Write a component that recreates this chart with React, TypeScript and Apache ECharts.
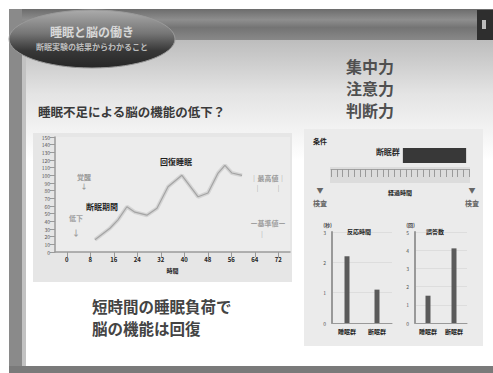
import React, { useEffect, useRef } from "react";
import * as echarts from "echarts";

const HOUR_LABELS = ["0", "8", "16", "24", "32", "40", "48", "56", "64", "72"];
const LINE_X = [1.7, 2.34, 2.68, 3.06, 3.4, 3.91, 4.34, 4.81, 5.4, 6.09, 6.51, 6.94, 7.23, 7.53, 7.96];
const LINE_Y = [16, 31, 42, 59, 52, 48, 57, 85, 100, 72, 77, 103, 113, 103, 100];
const GROUPS = ["睡眠群", "断眠群"];
const REACTION = [2.2, 1.1];
const ERRORS = [1.5, 4.1];
const TL_START = [12.5];
const TL_LEN = [11];
const ABILITIES = ["集中力", "注意力", "判断力"];

const FONT = "'Noto Sans CJK JP', 'Noto Sans', sans-serif";

export default function App() {
  const ref = useRef<HTMLDivElement>(null);
  useEffect(() => {
    if (!ref.current) return;
    const chart = echarts.init(ref.current, undefined, { renderer: "svg" });
    const small = (s: number, c: string, bold = false) => ({
      fontSize: s,
      color: c,
      fontFamily: FONT,
      fontWeight: bold ? ("bold" as const) : ("normal" as const),
    });
    const txt = (x: number, y: number, text: string, fill: string, size: number, align = "center", bold = true, z = 5) => ({
      type: "text",
      z,
      style: { x, y, text, align, verticalAlign: "middle", fill, font: `${bold ? "bold " : ""}${size}px ${FONT}` },
    });
    const option: any = {
      animation: false,
      backgroundColor: "#ffffff",
      textStyle: { fontFamily: FONT },
      graphic: [
        { type: "rect", z: -20, shape: { x: 9, y: 9, width: 484, height: 364 }, style: { fill: "#ffffff" } },
        {
          type: "rect",
          z: -19,
          shape: { x: 9, y: 40, width: 484, height: 120 },
          style: {
            fill: new echarts.graphic.LinearGradient(0, 0, 0, 1, [
              { offset: 0, color: "#bdbdbd" },
              { offset: 0.45, color: "#e4e4e4" },
              { offset: 1, color: "#ffffff" },
            ]),
          },
        },
        {
          type: "rect",
          z: -18,
          shape: { x: 9, y: 9, width: 484, height: 31 },
          style: {
            fill: new echarts.graphic.LinearGradient(0, 0, 0, 1, [
              { offset: 0, color: "#6c6c6c" },
              { offset: 0.35, color: "#8e8e8e" },
              { offset: 0.6, color: "#747474" },
              { offset: 1, color: "#888888" },
            ]),
          },
        },
        { type: "rect", z: -17, shape: { x: 9, y: 9, width: 13, height: 364 }, style: { fill: "#8a8a8a" } },
        { type: "rect", z: -17, shape: { x: 22, y: 40, width: 4, height: 327 }, style: { fill: "#c2c2c2" } },
        { type: "rect", z: -17, shape: { x: 9, y: 366, width: 484, height: 7 }, style: { fill: "#7a7a7a" } },
        { type: "rect", z: -16, shape: { x: 477, y: 10, width: 16, height: 30 }, style: { fill: "#2e2e2e" } },
        { type: "rect", z: -15, shape: { x: 482, y: 20, width: 4, height: 9 }, style: { fill: "#bbbbbb" } },
        {
          type: "ellipse",
          z: -14,
          shape: { cx: 92, cy: 39, rx: 83, ry: 29 },
          style: {
            fill: new echarts.graphic.LinearGradient(0, 0, 0, 1, [
              { offset: 0, color: "#ababab" },
              { offset: 0.4, color: "#767676" },
              { offset: 0.7, color: "#383838" },
              { offset: 1, color: "#262626" },
            ]),
            stroke: "#9a9a9a",
            lineWidth: 1,
          },
        },
        txt(92, 31, "睡眠と脳の働き", "#d8d8d8", 12, "center", true, -13),
        txt(92, 46, "断眠実験の結果からわかること", "#bdbdbd", 8, "center", true, -13),
        ...ABILITIES.map((t, i) => txt(346, 66 + i * 22, t, "#505050", 16, "left", true, -13)),
        txt(38, 111, "睡眠不足による脳の機能の低下？", "#3a3a3a", 12.5, "left", true, -13),
        { type: "rect", z: -12, shape: { x: 33, y: 133, width: 259, height: 149 }, style: { fill: "#e6e6e6" } },
        { type: "rect", z: -12, shape: { x: 304, y: 129, width: 179, height: 217 }, style: { fill: "#ebebeb" } },
        { type: "rect", z: -11, shape: { x: 55, y: 137, width: 235, height: 115 }, style: { fill: "#ececec" } },
        txt(102, 206, "断眠期間", "#1e1e1e", 8),
        txt(176, 161, "回復睡眠", "#1e1e1e", 8),
        txt(84, 177, "覚醒", "#9a9a9a", 7),
        txt(84, 186, "↓", "#9a9a9a", 7),
        txt(76, 218, "低下", "#a0a0a0", 7),
        txt(76, 232, "↓", "#a0a0a0", 8),
        txt(268, 178, "｜最高値｜", "#9a9a9a", 7),
        txt(268, 188, "｜　　｜", "#9a9a9a", 7),
        txt(268, 223, "ー基準値ー", "#a0a0a0", 7),
        txt(262, 234, "｜", "#a0a0a0", 7),
        txt(313, 141, "条件", "#222", 7, "left"),
        { type: "rect", z: -10, shape: { x: 330, y: 167, width: 140, height: 16 }, style: { fill: "#dcdcdc" } },
        txt(320, 190, "▼", "#666", 7),
        txt(320, 203, "検査", "#666", 7),
        txt(472, 190, "▼", "#666", 7),
        txt(472, 203, "検査", "#666", 7),
        txt(359, 231, "反応時間", "#1e1e1e", 6),
        txt(435, 231, "誤答数", "#1e1e1e", 6),
        txt(92, 306, "短時間の睡眠負荷で", "#444", 15.5, "left"),
        txt(92, 328, "脳の機能は回復", "#444", 15.5, "left"),
      ],
      grid: [
        { left: 55, top: 137, width: 235, height: 115 },
        { left: 331, top: 148, width: 138, height: 15 },
        { left: 332, top: 232, width: 60, height: 91 },
        { left: 415, top: 232, width: 52, height: 91 },
      ],
      xAxis: [
        {
          gridIndex: 0,
          type: "category",
          data: HOUR_LABELS,
          boundaryGap: true,
          axisLine: { lineStyle: { color: "#9a9a9a", width: 1.5 } },
          axisTick: { show: true, alignWithLabel: true, lineStyle: { color: "#9a9a9a" } },
          axisLabel: { ...small(6, "#222", true), margin: 4 },
          name: "時間",
          nameLocation: "middle",
          nameGap: 15,
          nameTextStyle: small(6, "#222", true),
        },
        { gridIndex: 0, type: "value", min: 0, max: 10, show: false },
        {
          gridIndex: 1,
          type: "value",
          min: 0,
          max: 24,
          interval: 1,
          offset: 6,
          axisLine: { show: true, lineStyle: { color: "#a0a0a0" } },
          axisTick: { show: true, length: 8, lineStyle: { color: "#9a9a9a" } },
          axisLabel: { show: false },
          splitLine: { show: false },
          name: "経過時間",
          nameLocation: "middle",
          nameGap: 20,
          nameTextStyle: small(6, "#222", true),
        },
        {
          gridIndex: 2,
          type: "category",
          data: GROUPS,
          axisLine: { lineStyle: { color: "#999" } },
          axisTick: { show: false },
          axisLabel: { ...small(6, "#1e1e1e", true), margin: 5 },
        },
        {
          gridIndex: 3,
          type: "category",
          data: GROUPS,
          axisLine: { lineStyle: { color: "#999" } },
          axisTick: { show: false },
          axisLabel: { ...small(6, "#1e1e1e", true), margin: 5 },
        },
      ],
      yAxis: [
        {
          gridIndex: 0,
          type: "value",
          min: 0,
          max: 150,
          interval: 10,
          axisLine: { show: true, lineStyle: { color: "#9a9a9a", width: 1.5 } },
          axisTick: { show: true, lineStyle: { color: "#9a9a9a" } },
          axisLabel: { ...small(5, "#555"), margin: 5 },
          splitLine: { show: false },
        },
        { gridIndex: 1, type: "category", data: ["断眠"], show: false },
        {
          gridIndex: 2,
          type: "value",
          min: 0,
          max: 3,
          interval: 1,
          axisLine: { show: true, lineStyle: { color: "#999", width: 2 } },
          axisTick: { show: false },
          axisLabel: { ...small(5, "#555"), margin: 6 },
          splitLine: { lineStyle: { color: "#dddddd" } },
          name: "(秒)",
          nameLocation: "end",
          nameGap: 5,
          nameTextStyle: { ...small(5, "#444", true), align: "right" },
        },
        {
          gridIndex: 3,
          type: "value",
          min: 0,
          max: 5,
          interval: 1,
          axisLine: { show: true, lineStyle: { color: "#999", width: 2 } },
          axisTick: { show: false },
          axisLabel: { ...small(5, "#555"), margin: 6 },
          splitLine: { lineStyle: { color: "#dddddd" } },
          name: "(回)",
          nameLocation: "end",
          nameGap: 5,
          nameTextStyle: { ...small(5, "#444", true), align: "right" },
        },
      ],
      series: [
        {
          type: "line",
          xAxisIndex: 1,
          yAxisIndex: 0,
          data: LINE_X.map((x, i) => [x, LINE_Y[i]]),
          symbol: "none",
          lineStyle: { width: 4, color: "#d4d4d4" },
          z: 2,
        },
        {
          type: "line",
          xAxisIndex: 1,
          yAxisIndex: 0,
          data: LINE_X.map((x, i) => [x, LINE_Y[i]]),
          symbol: "none",
          lineStyle: { width: 1.2, color: "#a4a4a4" },
          z: 3,
        },
        {
          type: "bar",
          xAxisIndex: 2,
          yAxisIndex: 1,
          stack: "tl",
          data: TL_START,
          barWidth: 15,
          itemStyle: { color: "rgba(0,0,0,0)" },
        },
        {
          type: "bar",
          xAxisIndex: 2,
          yAxisIndex: 1,
          stack: "tl",
          data: TL_LEN,
          barWidth: 15,
          itemStyle: { color: "#383838" },
          label: {
            show: true,
            position: "left",
            formatter: "断眠群",
            offset: [0, -4],
            distance: 3,
            ...small(8, "#2a2a2a", true),
          },
        },
        {
          type: "bar",
          xAxisIndex: 3,
          yAxisIndex: 2,
          data: REACTION,
          barWidth: 5,
          itemStyle: { color: "#5a5a5a" },
        },
        {
          type: "bar",
          xAxisIndex: 4,
          yAxisIndex: 3,
          data: ERRORS,
          barWidth: 5,
          itemStyle: { color: "#5a5a5a" },
        },
      ],
    };
    chart.setOption(option);
    return () => chart.dispose();
  }, []);
  return (
    <div
      ref={ref}
      style={{ position: "fixed", left: 0, top: 0, width: 493, height: 373 }}
    />
  );
}
